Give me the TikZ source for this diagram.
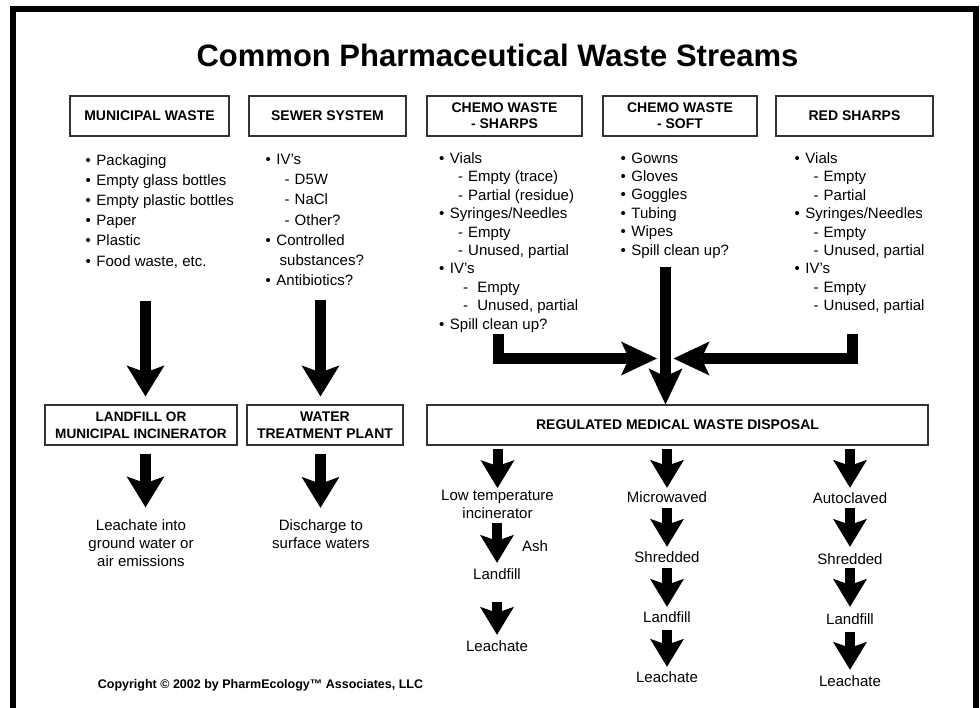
\documentclass[tikz,border=0pt]{standalone}
\usepackage{fontspec}
\setmainfont{Liberation Sans}
\usetikzlibrary{positioning,calc,arrows.meta}

\newcommand{\itm}{•\hspace{5.5pt}}
\newcommand{\subitm}[1][19pt]{\hspace*{#1}-\hspace{5pt}}

\begin{document}
\begin{tikzpicture}[x=1pt, y=-1pt,
    hdr/.style={draw=black!80, line width=1.2pt, minimum width=#1, minimum height=40pt,
        align=center, inner sep=0pt, font=\fontsize{14}{16}\selectfont\bfseries},
    hdr/.default=155pt,
    lst/.style={anchor=north west, align=left, inner sep=0pt, font=\fontsize{15}{#1}\selectfont},
    txt/.style={inner sep=0pt, text height=11pt, text depth=3pt, font=\fontsize{15}{18}\selectfont},
    txtm/.style={inner sep=0pt, align=center, font=\fontsize{15}{18}\selectfont},
    bigarrow/.style={line width=11pt, -{Stealth[length=31pt, width=38pt, inset=7pt, line width=0pt]}},
    smallarrow/.style={line width=10pt, -{Stealth[length=28pt, width=34pt, inset=6pt, line width=0pt]}},
    chemoarrow/.style={line width=11pt, -{Stealth[length=36pt, width=34pt, inset=8pt, line width=0pt]}}]
    \useasboundingbox (0,0) rectangle (980,708);
    % frame, open at the bottom
    \draw[line width=6pt] (12.5,708) -- (12.5,9) -- (976,9) -- (976,708);

    \node[inner sep=0pt, font=\fontsize{31}{36}\selectfont\bfseries] (title) at (497.5,55) {Common Pharmaceutical Waste Streams};

    % streams
    \node[hdr=159pt] (mw) at (149.5,116) {MUNICIPAL WASTE};
    \node[hdr=157pt] (sw) at (327.5,116) {SEWER SYSTEM};
    \node[hdr=155pt] (cs) at (504.5,116) {CHEMO WASTE\\- SHARPS};
    \node[hdr=154pt] (cf) at (680,116) {CHEMO WASTE\\- SOFT};
    \node[hdr=157pt] (rs) at (854.5,116) {RED SHARPS};

    \node[lst=20.2] (mwlist) at (85.5,154) {\itm Packaging\\ \itm Empty glass bottles\\ \itm Empty plastic bottles\\
        \itm Paper\\ \itm Plastic\\ \itm Food waste, etc.};
    \node[lst=20.2] (swlist) at (265.5,154) {\itm IV’s\\ \subitm D5W\\ \subitm NaCl\\ \subitm Other?\\
        \itm Controlled\\ \hspace*{14pt}substances?\\ \itm Antibiotics?};
    \node[lst=18.4] (cslist) at (439,152.5) {\itm Vials\\ \subitm Empty (trace)\\ \subitm Partial (residue)\\
        \itm Syringes/Needles\\ \subitm Empty\\ \subitm Unused, partial\\
        \itm IV’s\\ \subitm[24pt] Empty\\ \subitm[24pt] Unused, partial\\ \itm Spill clean up?};
    \node[lst=18.4] (cflist) at (620.5,152.5) {\itm Gowns\\ \itm Gloves\\ \itm Goggles\\ \itm Tubing\\
        \itm Wipes\\ \itm Spill clean up?};
    \node[lst=18.4] (rslist) at (794.5,152.5) {\itm Vials\\ \subitm Empty\\ \subitm Partial\\
        \itm Syringes/Needles\\ \subitm Empty\\ \subitm Unused, partial\\
        \itm IV’s\\ \subitm Empty\\ \subitm Unused, partial};

    % disposal
    \node[hdr=192pt, font=\fontsize{13.6}{17}\selectfont\bfseries] (lf) at (141,425) {LANDFILL OR\\MUNICIPAL INCINERATOR};
    \node[hdr=156pt, font=\fontsize{14}{17}\selectfont\bfseries] (wt) at (325,425) {WATER\\TREATMENT PLANT};
    \node[hdr=501pt] (rmw) at (677.5,425) {REGULATED MEDICAL WASTE DISPOSAL};

    \node[txtm] (mwend) at (141,543.5) {Leachate into\\ground water or\\air emissions};
    \node[txtm] (swend) at (321,534.5) {Discharge to\\surface waters};

    \node[txtm] (lowt) at (497.5,504) {Low temperature\\incinerator};
    \node[txt] (ash) at (535,547) {Ash};
    \node[txt] (land1) at (497,575) {Landfill};
    \node[txt] (leach1) at (497,647) {Leachate};

    \node[txt] (micro) at (667,498) {Microwaved};
    \node[txt] (shred2) at (667,558) {Shredded};
    \node[txt] (land2) at (667,618) {Landfill};
    \node[txt] (leach2) at (667,678) {Leachate};

    \node[txt] (auto) at (850,499) {Autoclaved};
    \node[txt] (shred3) at (850,560) {Shredded};
    \node[txt] (land3) at (850,620) {Landfill};
    \node[txt] (leach3) at (850,682) {Leachate};

    \node[inner sep=0pt, font=\fontsize{12.5}{14}\selectfont\bfseries] (copy) at (260.5,685) {Copyright © 2002 by PharmEcology™ Associates, LLC};

    % big arrows, left side
    \coordinate (mwdrop) at (145.5,301);
    \coordinate (swdrop) at (320.5,300);
    \draw[bigarrow, shorten >=8pt] (mwdrop) -- (mwdrop |- lf.north);
    \draw[bigarrow, shorten >=8pt] (swdrop) -- (swdrop |- wt.north);
    \draw[bigarrow, shorten <=8pt, shorten >=12.5pt] (lf.south -| mwdrop) -- (mwend.north -| mwdrop);
    \draw[bigarrow, shorten <=8pt, shorten >=12pt] (wt.south -| swdrop) -- (swend.north -| swdrop);

    % chemo streams join
    \coordinate (softdrop) at (665.5,267);
    \coordinate (sharpsdrop) at (498,334);
    \coordinate (redsdrop) at (852.5,334);
    \coordinate (joinL) at (657,358.5);
    \coordinate (joinR) at (673.5,358.5);
    \draw[chemoarrow] (softdrop) -- (softdrop |- rmw.north);
    \draw[chemoarrow] (sharpsdrop) |- (joinL);
    \draw[chemoarrow] (redsdrop) |- (joinR);

    % treatment chains
    \draw[smallarrow, shorten <=3pt, shorten >=1.5pt] (rmw.south -| lowt.north) -- (lowt.north);
    \draw[smallarrow, shorten <=4.5pt, shorten >=5pt] (lowt.south -| land1.north) -- (land1.north);
    \draw[smallarrow, shorten <=20pt, shorten >=5pt] (land1.south) -- (leach1.north);

    \draw[smallarrow, shorten <=3pt, shorten >=3pt] (rmw.south -| micro.north) -- (micro.north);
    \draw[smallarrow, shorten <=3pt, shorten >=4pt] (micro.south) -- (shred2.north);
    \draw[smallarrow, shorten <=3pt, shorten >=4pt] (shred2.south) -- (land2.north);
    \draw[smallarrow, shorten <=5pt, shorten >=4pt] (land2.south) -- (leach2.north);

    \draw[smallarrow, shorten <=3pt, shorten >=4pt] (rmw.south -| auto.north) -- (auto.north);
    \draw[smallarrow, shorten <=2pt, shorten >=6pt] (auto.south) -- (shred3.north);
    \draw[smallarrow, shorten <=1pt, shorten >=6pt] (shred3.south) -- (land3.north);
    \draw[smallarrow, shorten <=5pt, shorten >=5pt] (land3.south) -- (leach3.north);
\end{tikzpicture}
\end{document}
